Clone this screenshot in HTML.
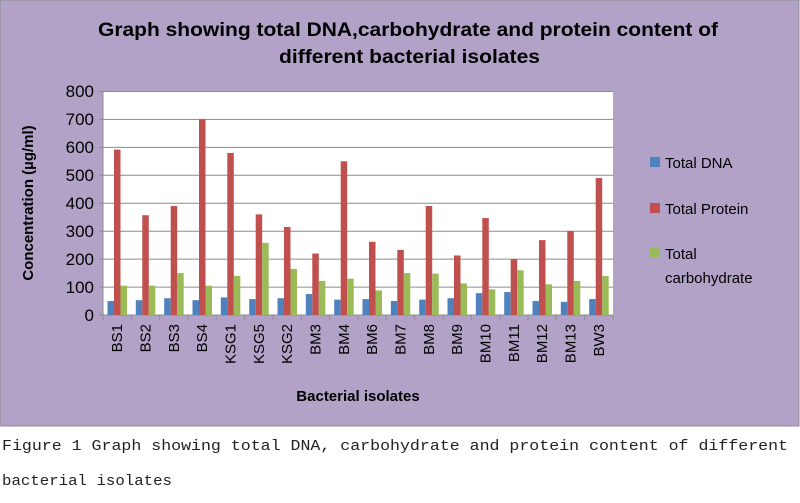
<!DOCTYPE html>
<html><head><meta charset="utf-8"><style>
body{margin:0;background:#fff;width:800px;height:503px;overflow:hidden}
svg{display:block}
.t{font-family:"Liberation Sans",sans-serif}
</style></head><body>
<svg width="800" height="503" xmlns="http://www.w3.org/2000/svg">
<rect x="0" y="0" width="799" height="426" fill="#b2a2c7" stroke="#8c8c8c" stroke-width="1"/>
<text class="t" x="98" y="36" font-size="19" font-weight="bold" fill="#000" textLength="620" lengthAdjust="spacingAndGlyphs">Graph showing total DNA,carbohydrate and protein content of</text>
<text class="t" x="279" y="63" font-size="19" font-weight="bold" fill="#000" textLength="261" lengthAdjust="spacingAndGlyphs">different bacterial isolates</text>
<rect x="103" y="91.5" width="510" height="223.5" fill="#fff"/>
<g stroke="#8c8c8c" stroke-width="1">
<line x1="99" x2="613" y1="91.5" y2="91.5"/>
<line x1="99" x2="613" y1="119.4" y2="119.4"/>
<line x1="99" x2="613" y1="147.4" y2="147.4"/>
<line x1="99" x2="613" y1="175.3" y2="175.3"/>
<line x1="99" x2="613" y1="203.2" y2="203.2"/>
<line x1="99" x2="613" y1="231.2" y2="231.2"/>
<line x1="99" x2="613" y1="259.1" y2="259.1"/>
<line x1="99" x2="613" y1="287.1" y2="287.1"/>
<line x1="99" x2="613" y1="315" y2="315"/>
<line x1="103" x2="103" y1="91.5" y2="320"/>
<line x1="131.3" x2="131.3" y1="315" y2="320"/><line x1="159.7" x2="159.7" y1="315" y2="320"/><line x1="188" x2="188" y1="315" y2="320"/><line x1="216.3" x2="216.3" y1="315" y2="320"/><line x1="244.7" x2="244.7" y1="315" y2="320"/><line x1="273" x2="273" y1="315" y2="320"/><line x1="301.3" x2="301.3" y1="315" y2="320"/><line x1="329.7" x2="329.7" y1="315" y2="320"/><line x1="358" x2="358" y1="315" y2="320"/><line x1="386.3" x2="386.3" y1="315" y2="320"/><line x1="414.7" x2="414.7" y1="315" y2="320"/><line x1="443" x2="443" y1="315" y2="320"/><line x1="471.3" x2="471.3" y1="315" y2="320"/><line x1="499.7" x2="499.7" y1="315" y2="320"/><line x1="528" x2="528" y1="315" y2="320"/><line x1="556.3" x2="556.3" y1="315" y2="320"/><line x1="584.7" x2="584.7" y1="315" y2="320"/><line x1="613" x2="613" y1="315" y2="320"/>
</g>
<g class="t" font-size="17" text-anchor="end" fill="#000">
<text x="94" y="97">800</text><text x="94" y="125">700</text><text x="94" y="153">600</text><text x="94" y="181">500</text><text x="94" y="209">400</text><text x="94" y="237">300</text><text x="94" y="265">200</text><text x="94" y="293">100</text><text x="94" y="321">0</text>
</g>
<g transform="translate(0,315) scale(1,-0.2794)">
<g fill="#4f81bd">
<rect x="107.5" y="0" width="6.5" height="50"/><rect x="135.8" y="0" width="6.5" height="53"/><rect x="164.2" y="0" width="6.5" height="60"/><rect x="192.5" y="0" width="6.5" height="53"/><rect x="220.8" y="0" width="6.5" height="63"/><rect x="249.2" y="0" width="6.5" height="57"/><rect x="277.5" y="0" width="6.5" height="60"/><rect x="305.8" y="0" width="6.5" height="75"/><rect x="334.2" y="0" width="6.5" height="55"/><rect x="362.5" y="0" width="6.5" height="57"/><rect x="390.8" y="0" width="6.5" height="50"/><rect x="419.2" y="0" width="6.5" height="55"/><rect x="447.5" y="0" width="6.5" height="60"/><rect x="475.8" y="0" width="6.5" height="78"/><rect x="504.2" y="0" width="6.5" height="82"/><rect x="532.5" y="0" width="6.5" height="50"/><rect x="560.8" y="0" width="6.5" height="47"/><rect x="589.2" y="0" width="6.5" height="57"/>
</g>
<g fill="#c0504d">
<rect x="114" y="0" width="6.5" height="592"/><rect x="142.3" y="0" width="6.5" height="357"/><rect x="170.7" y="0" width="6.5" height="390"/><rect x="199" y="0" width="6.5" height="700"/><rect x="227.3" y="0" width="6.5" height="580"/><rect x="255.7" y="0" width="6.5" height="360"/><rect x="284" y="0" width="6.5" height="315"/><rect x="312.3" y="0" width="6.5" height="220"/><rect x="340.7" y="0" width="6.5" height="550"/><rect x="369" y="0" width="6.5" height="262"/><rect x="397.3" y="0" width="6.5" height="233"/><rect x="425.7" y="0" width="6.5" height="390"/><rect x="454" y="0" width="6.5" height="213"/><rect x="482.3" y="0" width="6.5" height="347"/><rect x="510.7" y="0" width="6.5" height="200"/><rect x="539" y="0" width="6.5" height="268"/><rect x="567.3" y="0" width="6.5" height="300"/><rect x="595.7" y="0" width="6.5" height="490"/>
</g>
<g fill="#9bbb59">
<rect x="120.5" y="0" width="6.5" height="105"/><rect x="148.8" y="0" width="6.5" height="105"/><rect x="177.2" y="0" width="6.5" height="150"/><rect x="205.5" y="0" width="6.5" height="105"/><rect x="233.8" y="0" width="6.5" height="140"/><rect x="262.2" y="0" width="6.5" height="258"/><rect x="290.5" y="0" width="6.5" height="165"/><rect x="318.8" y="0" width="6.5" height="122"/><rect x="347.2" y="0" width="6.5" height="130"/><rect x="375.5" y="0" width="6.5" height="88"/><rect x="403.8" y="0" width="6.5" height="150"/><rect x="432.2" y="0" width="6.5" height="148"/><rect x="460.5" y="0" width="6.5" height="113"/><rect x="488.8" y="0" width="6.5" height="92"/><rect x="517.2" y="0" width="6.5" height="160"/><rect x="545.5" y="0" width="6.5" height="110"/><rect x="573.8" y="0" width="6.5" height="122"/><rect x="602.2" y="0" width="6.5" height="140"/>
</g>
</g>
<g class="t" font-size="15" text-anchor="end" fill="#000">
<text transform="translate(122,324) rotate(-90)">BS1</text>
<text transform="translate(150.5,324) rotate(-90)">BS2</text>
<text transform="translate(178.8,324) rotate(-90)">BS3</text>
<text transform="translate(207.2,324) rotate(-90)">BS4</text>
<text transform="translate(235.5,324) rotate(-90)">KSG1</text>
<text transform="translate(263.8,324) rotate(-90)">KSG5</text>
<text transform="translate(292.2,324) rotate(-90)">KSG2</text>
<text transform="translate(320.5,324) rotate(-90)">BM3</text>
<text transform="translate(348.8,324) rotate(-90)">BM4</text>
<text transform="translate(377.2,324) rotate(-90)">BM6</text>
<text transform="translate(405.5,324) rotate(-90)">BM7</text>
<text transform="translate(433.8,324) rotate(-90)">BM8</text>
<text transform="translate(462.2,324) rotate(-90)">BM9</text>
<text transform="translate(490.5,324) rotate(-90)">BM10</text>
<text transform="translate(518.8,324) rotate(-90)">BM11</text>
<text transform="translate(547.2,324) rotate(-90)">BM12</text>
<text transform="translate(575.5,324) rotate(-90)">BM13</text>
<text transform="translate(603.8,324) rotate(-90)">BW3</text>
</g>
<text class="t" x="358" y="401" font-size="15" font-weight="bold" text-anchor="middle">Bacterial isolates</text>
<text class="t" transform="translate(33,203) rotate(-90)" font-size="15" font-weight="bold" text-anchor="middle">Concentration (µg/ml)</text>
<rect x="650" y="157" width="10" height="10" fill="#4f81bd"/>
<rect x="650" y="203" width="10" height="10" fill="#c0504d"/>
<rect x="650" y="248" width="10" height="10" fill="#9bbb59"/>
<g class="t" font-size="15" fill="#000">
<text x="665" y="168">Total DNA</text>
<text x="665" y="214">Total Protein</text>
<text x="665" y="259">Total</text>
<text x="665" y="283">carbohydrate</text>
</g>
<g font-family="'Liberation Mono',monospace" font-size="15" fill="#222">
<text x="2" y="450" textLength="786" lengthAdjust="spacingAndGlyphs">Figure 1 Graph showing total DNA, carbohydrate and protein content of different</text>
<text x="2" y="485" textLength="170" lengthAdjust="spacingAndGlyphs">bacterial isolates</text>
</g>
</svg>
</body></html>
